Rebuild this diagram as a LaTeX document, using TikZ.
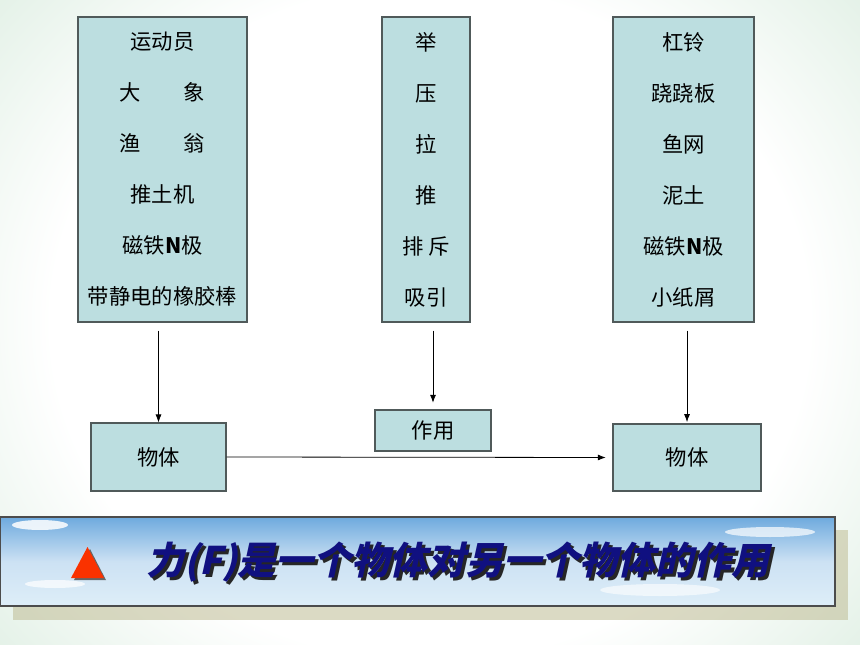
\documentclass[tikz,border=0pt]{standalone}
\usepackage{fontspec}
\setmainfont{Noto Sans CJK SC}
\newfontfamily\cjkbi{Noto Sans CJK SC}[FakeSlant=0.22]
\usetikzlibrary{arrows.meta}
\definecolor{bgc}{RGB}{178,216,188}
\definecolor{boxc}{RGB}{188,222,224}
\definecolor{boxd}{RGB}{80,90,90}
\definecolor{navy}{RGB}{16,16,128}
\definecolor{skytop}{RGB}{110,170,222}
\definecolor{skybot}{RGB}{222,238,248}
\definecolor{tri}{RGB}{250,50,0}
\pgfdeclareradialshading{bgshade}{\pgfpoint{0bp}{0bp}}{color(0bp)=(white); color(22bp)=(white); color(36bp)=(bgc!45!white); color(46bp)=(bgc); color(50bp)=(bgc)}
\tikzset{
  bigbox/.style={draw=boxd, fill=boxc, line width=0.8pt, align=center, inner sep=0pt,
    minimum height=228.75pt, font=\fontsize{16}{38.25}\selectfont},
  smallbox/.style={draw=boxd, fill=boxc, line width=0.8pt, inner sep=0pt, font=\fontsize{16}{19}\selectfont},
  arr/.style={-{Latex[length=6pt,width=4.5pt]}, line width=0.6pt, black}
}
\begin{document}
\begin{tikzpicture}[x=0.75pt,y=-0.75pt]
\useasboundingbox (0,0) rectangle (860,645);
% background
\fill[bgc] (0,0) rectangle (860,645);
\shade[shading=bgshade] (0,-60) rectangle (860,705);
% boxes
\node[bigbox, minimum width=126.75pt] (b1) at (162.5,169.5)
  {运动员\\大\hspace{2em}象\\渔\hspace{2em}翁\\推土机\\磁铁\textbf{N}极\\带静电的橡胶棒};
\node[bigbox, minimum width=66pt] (b2) at (426,169.5)
  {举\\压\\拉\\推\\排 斥\\吸引};
\node[bigbox, minimum width=105.75pt] (b3) at (683.5,169.5)
  {杠铃\\跷跷板\\鱼网\\泥土\\磁铁\textbf{N}极\\小纸屑};
\node[smallbox, minimum width=101.25pt, minimum height=51pt] (o1) at (158.5,457) {物体};
\node[smallbox, minimum width=87pt, minimum height=30.75pt] (zy) at (433,430.5) {作用};
\node[smallbox, minimum width=111pt, minimum height=50.25pt] (o2) at (687,457.5) {物体};
% connectors
\draw[arr, shorten <=6pt] (o1.north |- b1.south) -- (o1.north);
\draw[arr, shorten <=6pt, shorten >=5pt] (zy.north |- b2.south) -- (zy.north);
\draw[arr, shorten <=6pt, shorten >=1pt] (o2.north |- b3.south) -- (o2.north);
\draw[arr, shorten >=5pt] (o1.east) -- (o2.west);
% banner
\fill[black!45!olive!40, opacity=0.55] (13,530) rectangle (848,620);
\shade[top color=skytop, bottom color=skybot, middle color=skytop!35!white, draw=black!70, line width=0.8pt] (0,517) rectangle (835,606);
\fill[white, opacity=0.85] (40,525) ellipse (28 and 5);
\fill[white, opacity=0.7] (770,532) ellipse (45 and 5);
\fill[white, opacity=0.7] (55,584) ellipse (30 and 4);
\fill[white, opacity=0.6] (660,590) ellipse (60 and 6);
\fill[black!60] (74,580) -- (90,549) -- (106,580) -- cycle;
\fill[tri] (71,578) -- (87.5,547) -- (104,578) -- cycle;
\node[inner sep=0pt, font=\cjkbi\bfseries\fontsize{28.5}{32}\selectfont] (banner) at (458,564)
  {\makebox[0pt][l]{\raisebox{-2.2pt}{\hspace{2.2pt}\color{black!85}力(F)是一个物体对另一个物体的作用}}\color{navy}力(F)是一个物体对另一个物体的作用};
\end{tikzpicture}
\end{document}
